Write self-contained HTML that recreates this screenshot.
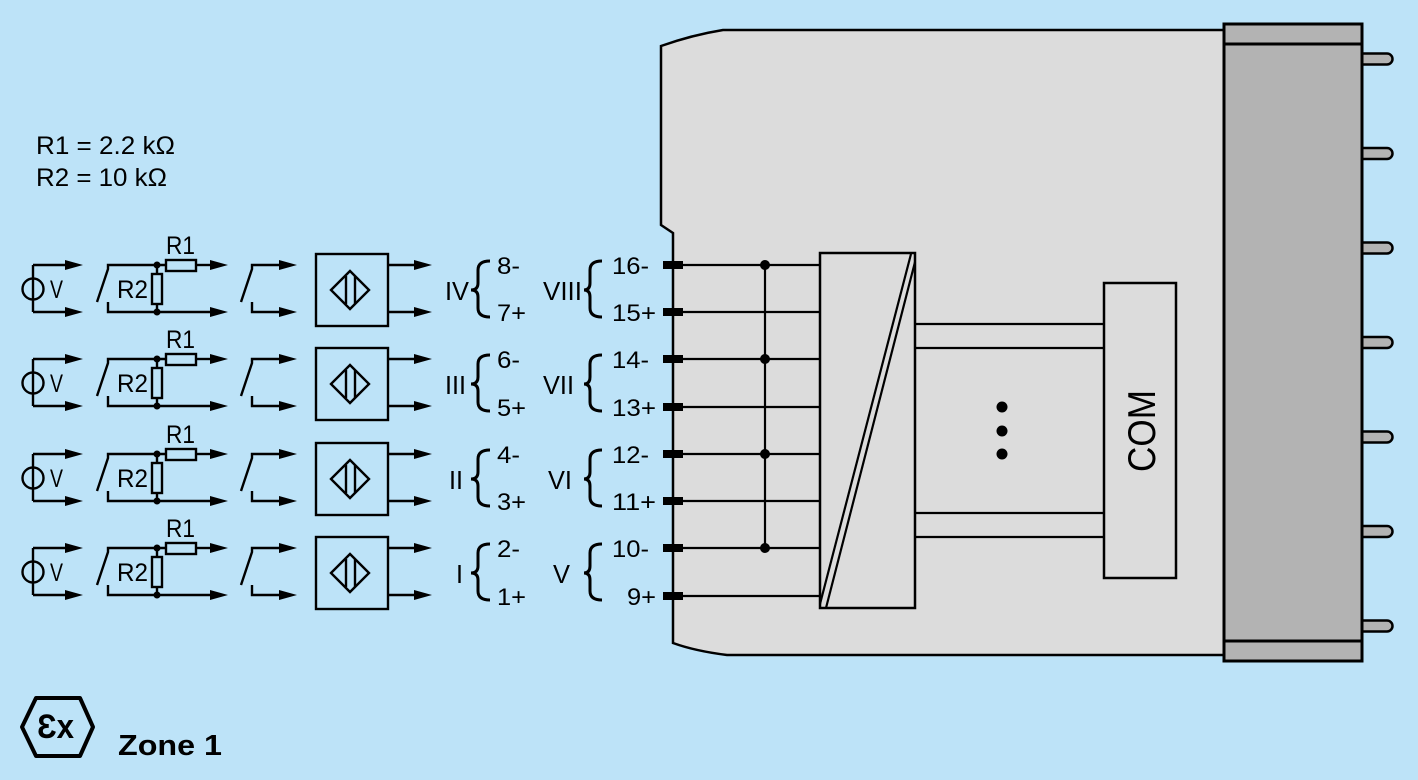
<!DOCTYPE html>
<html><head><meta charset="utf-8"><style>
html,body{margin:0;padding:0;background:#bde3f8;}
svg{display:block;}
text{font-family:"Liberation Sans",Arial,sans-serif;fill:#000;}
</style></head><body>
<svg width="1418" height="780" viewBox="0 0 1418 780" xmlns="http://www.w3.org/2000/svg">
<rect x="0" y="0" width="1418" height="780" fill="#bde3f8"/>

<!-- housing -->
<path d="M723,30 L1224,30 L1224,655 L727,655 Q695,651 673,643 L673,233 L661,225 L661,46 Q692,35 723,30 Z" fill="#dcdcdc" stroke="#000" stroke-width="2.5"/>
<!-- right block -->
<g fill="#b3b3b3" stroke="#000" stroke-width="2.5">
<path d="M1362,53.5 L1387,53.5 A5.5,5.5 0 0 1 1387,64.5 L1362,64.5 Z"/>
<path d="M1362,148 L1387,148 A5.5,5.5 0 0 1 1387,159 L1362,159 Z"/>
<path d="M1362,242.5 L1387,242.5 A5.5,5.5 0 0 1 1387,253.5 L1362,253.5 Z"/>
<path d="M1362,337 L1387,337 A5.5,5.5 0 0 1 1387,348 L1362,348 Z"/>
<path d="M1362,431.5 L1387,431.5 A5.5,5.5 0 0 1 1387,442.5 L1362,442.5 Z"/>
<path d="M1362,526 L1387,526 A5.5,5.5 0 0 1 1387,537 L1362,537 Z"/>
<path d="M1362,620.5 L1387,620.5 A5.5,5.5 0 0 1 1387,631.5 L1362,631.5 Z"/>
</g>
<rect x="1224" y="24" width="138" height="637" fill="#b3b3b3" stroke="#000" stroke-width="3"/>
<line x1="1224" y1="44" x2="1362" y2="44" stroke="#000" stroke-width="3"/>
<line x1="1224" y1="641" x2="1362" y2="641" stroke="#000" stroke-width="3"/>

<!-- converter block -->
<g stroke="#000" fill="none" stroke-width="2.2">
<line x1="683" y1="265" x2="820" y2="265"/>
<line x1="683" y1="312" x2="820" y2="312"/>
<line x1="683" y1="359" x2="820" y2="359"/>
<line x1="683" y1="407" x2="820" y2="407"/>
<line x1="683" y1="454" x2="820" y2="454"/>
<line x1="683" y1="501" x2="820" y2="501"/>
<line x1="683" y1="548" x2="820" y2="548"/>
<line x1="683" y1="596" x2="820" y2="596"/>
<line x1="765" y1="265" x2="765" y2="548"/>
<rect x="820" y="253" width="95" height="355" stroke-width="2.5"/>
<line x1="820" y1="604" x2="911" y2="254"/>
<line x1="826" y1="608" x2="915" y2="262"/>
<line x1="915" y1="324" x2="1104" y2="324"/>
<line x1="915" y1="348" x2="1104" y2="348"/>
<line x1="915" y1="513" x2="1104" y2="513"/>
<line x1="915" y1="537" x2="1104" y2="537"/>
<rect x="1104" y="283" width="72" height="295" stroke-width="2.5"/>
</g>
<g fill="#000">
<circle cx="765" cy="265" r="5"/><circle cx="765" cy="359" r="5"/><circle cx="765" cy="454" r="5"/><circle cx="765" cy="548" r="5"/>
<circle cx="1002" cy="407" r="5.5"/><circle cx="1002" cy="431" r="5.5"/><circle cx="1002" cy="454" r="5.5"/>
<rect x="663" y="261" width="20" height="8"/><rect x="663" y="308" width="20" height="8"/>
<rect x="663" y="355" width="20" height="8"/><rect x="663" y="403" width="20" height="8"/>
<rect x="663" y="450" width="20" height="8"/><rect x="663" y="497" width="20" height="8"/>
<rect x="663" y="544" width="20" height="8"/><rect x="663" y="592" width="20" height="8"/>
</g>
<text transform="translate(1155,431) rotate(-90)" x="0" y="0" text-anchor="middle" font-size="39" textLength="82" lengthAdjust="spacingAndGlyphs">COM</text>

<!-- legend -->
<text x="36" y="154" font-size="25" textLength="139" lengthAdjust="spacingAndGlyphs">R1 = 2.2 kΩ</text>
<text x="36" y="186" font-size="25" textLength="131" lengthAdjust="spacingAndGlyphs">R2 = 10 kΩ</text>

<!-- Ex -->
<polygon points="22,727 36,698 80,698 93,727 80,756 36,756" fill="none" stroke="#000" stroke-width="4" stroke-linejoin="round"/>
<text x="37" y="738" font-size="34" font-weight="bold" textLength="37" lengthAdjust="spacingAndGlyphs">Ɛx</text>
<text x="118" y="755" font-size="29" font-weight="bold" textLength="104" lengthAdjust="spacingAndGlyphs">Zone 1</text>

<!-- rows -->
<g id="row">
<g stroke="#000" fill="none" stroke-width="2.4">
<!-- source -->
<line x1="33" y1="265" x2="33" y2="312"/>
<line x1="33" y1="265" x2="66" y2="265"/>
<line x1="33" y1="312" x2="66" y2="312"/>
<circle cx="33" cy="289" r="10.5"/>
<!-- switch + resistors -->
<path d="M97,302 L108,269 L108,265 L166,265"/>
<path d="M108,302 L108,312 L211,312"/>
<rect x="166" y="260" width="30" height="11"/>
<line x1="196" y1="265" x2="211" y2="265"/>
<line x1="157" y1="265" x2="157" y2="274"/>
<rect x="152" y="274" width="10" height="30"/>
<line x1="157" y1="304" x2="157" y2="312"/>
<!-- switch 2 -->
<path d="M241,302 L252,269 L252,265 L280,265"/>
<path d="M252,302 L252,312 L280,312"/>
<!-- sensor -->
<rect x="316" y="254" width="72" height="72"/>
<polygon points="331,290 350,271 369,290 350,309"/>
<line x1="346" y1="276" x2="346" y2="304"/>
<line x1="355" y1="276" x2="355" y2="304"/>
<line x1="388" y1="265" x2="415" y2="265"/>
<line x1="388" y1="312" x2="415" y2="312"/>
<!-- braces -->
<path d="M490,261 Q478,261 478,270 L478,283 Q478,290 471,290 Q478,290 478,297 L478,308 Q478,317 490,317" stroke-width="3"/>
<path d="M602,261 Q590,261 590,270 L590,283 Q590,290 584,290 Q590,290 590,297 L590,308 Q590,317 602,317" stroke-width="3"/>
</g>
<g fill="#000">
<polygon points="83,265 65,260 65,270"/><polygon points="83,312 65,307 65,317"/>
<polygon points="228,265 210,260 210,270"/><polygon points="228,312 210,307 210,317"/>
<polygon points="297,265 279,260 279,270"/><polygon points="297,312 279,307 279,317"/>
<polygon points="432,265 414,260 414,270"/><polygon points="432,312 414,307 414,317"/>
<circle cx="157" cy="265" r="3.5"/><circle cx="157" cy="312" r="3.5"/>
</g>
<text x="50" y="298" font-size="25" textLength="13" lengthAdjust="spacingAndGlyphs">V</text>
<text x="117" y="298" font-size="25" textLength="31" lengthAdjust="spacingAndGlyphs">R2</text>
<text x="166" y="254" font-size="25" textLength="29" lengthAdjust="spacingAndGlyphs">R1</text>
</g>
<use href="#row" transform="translate(0,94)"/>
<use href="#row" transform="translate(0,189)"/>
<use href="#row" transform="translate(0,283)"/>

<!-- labels -->
<g font-size="24">
<text x="497" y="274" textLength="23" lengthAdjust="spacingAndGlyphs">8-</text>
<text x="497" y="321" textLength="29" lengthAdjust="spacingAndGlyphs">7+</text>
<text x="497" y="368" textLength="23" lengthAdjust="spacingAndGlyphs">6-</text>
<text x="497" y="416" textLength="29" lengthAdjust="spacingAndGlyphs">5+</text>
<text x="497" y="463" textLength="23" lengthAdjust="spacingAndGlyphs">4-</text>
<text x="497" y="510" textLength="29" lengthAdjust="spacingAndGlyphs">3+</text>
<text x="497" y="557" textLength="23" lengthAdjust="spacingAndGlyphs">2-</text>
<text x="497" y="605" textLength="29" lengthAdjust="spacingAndGlyphs">1+</text>
<text x="612" y="274" textLength="37" lengthAdjust="spacingAndGlyphs">16-</text>
<text x="612" y="321" textLength="44" lengthAdjust="spacingAndGlyphs">15+</text>
<text x="612" y="368" textLength="37" lengthAdjust="spacingAndGlyphs">14-</text>
<text x="612" y="416" textLength="44" lengthAdjust="spacingAndGlyphs">13+</text>
<text x="612" y="463" textLength="37" lengthAdjust="spacingAndGlyphs">12-</text>
<text x="612" y="510" textLength="44" lengthAdjust="spacingAndGlyphs">11+</text>
<text x="612" y="557" textLength="37" lengthAdjust="spacingAndGlyphs">10-</text>
<text x="627" y="605" textLength="29" lengthAdjust="spacingAndGlyphs">9+</text>
</g>
<g font-size="26">
<text x="445" y="300" textLength="24" lengthAdjust="spacingAndGlyphs">IV</text>
<text x="445" y="394" textLength="21" lengthAdjust="spacingAndGlyphs">III</text>
<text x="449" y="489" textLength="14" lengthAdjust="spacingAndGlyphs">II</text>
<text x="456" y="583" textLength="7" lengthAdjust="spacingAndGlyphs">I</text>
<text x="543" y="300" textLength="39" lengthAdjust="spacingAndGlyphs">VIII</text>
<text x="543" y="394" textLength="31" lengthAdjust="spacingAndGlyphs">VII</text>
<text x="548" y="489" textLength="24" lengthAdjust="spacingAndGlyphs">VI</text>
<text x="553" y="583" textLength="17" lengthAdjust="spacingAndGlyphs">V</text>
</g>
</svg>
</body></html>
